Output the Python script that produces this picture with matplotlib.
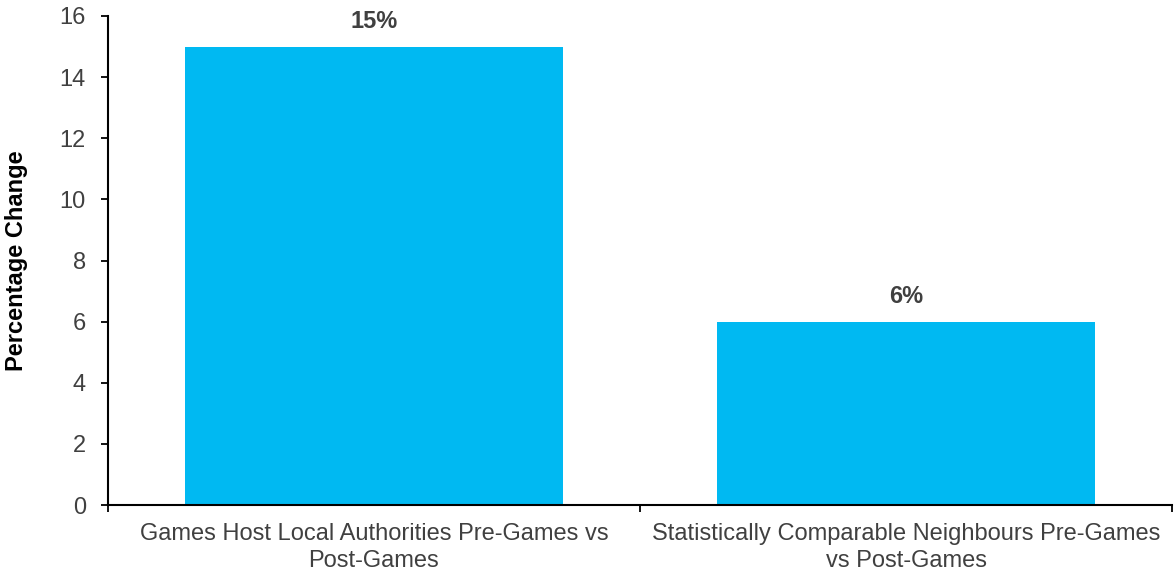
import matplotlib.pyplot as plt
import numpy as np

plt.rcParams['font.family'] = ['Liberation Sans', 'DejaVu Sans']

categories = ['Games Host Local Authorities Pre-Games vs\nPost-Games',
              'Statistically Comparable Neighbours Pre-Games\nvs Post-Games']
values = [15, 6]
bar_labels = ['15%', '6%']
y_ticks = [0, 2, 4, 6, 8, 10, 12, 14, 16]

text_color = '#404040'
bar_color = '#00B9F2'

fig = plt.figure(figsize=(11.74, 5.74), dpi=100)
ax = fig.add_axes([108 / 1174, 1 - 505 / 574, (1172 - 108) / 1174, (505 - 16) / 574])

x = np.arange(len(categories))
bars = ax.bar(x, values, width=0.709, color=bar_color)
for rect, lab in zip(bars, bar_labels):
    ax.text(rect.get_x() + rect.get_width() / 2, rect.get_height() + 0.45, lab,
            ha='center', va='bottom', fontsize=17, fontweight='bold', color=text_color)

ax.set_xlim(-0.5, len(categories) - 0.5)
ax.set_ylim(0, 16)
ax.set_yticks(y_ticks)

# boundary ticks like a spreadsheet chart, labels centred on the categories
ax.set_xticks(np.arange(-0.5, len(categories), 1.0))
ax.set_xticklabels([])
ax.set_xticks(x, minor=True)
ax.set_xticklabels(categories, minor=True, fontsize=17, color=text_color, linespacing=1.3)
ax.tick_params(axis='x', which='minor', length=0, pad=13)
ax.tick_params(axis='x', which='major', length=5, width=1.3)
ax.tick_params(axis='y', length=5, width=1.3, labelsize=17, labelcolor=text_color, pad=11)

for s in ['top', 'right']:
    ax.spines[s].set_visible(False)
for s in ['left', 'bottom']:
    ax.spines[s].set_linewidth(1.5)

ax.set_ylabel('Percentage Change', fontsize=17, fontweight='bold', color='black')
ax.yaxis.set_label_coords(-80 / 1064, 0.5)

fig.savefig('out.png', dpi=100)
